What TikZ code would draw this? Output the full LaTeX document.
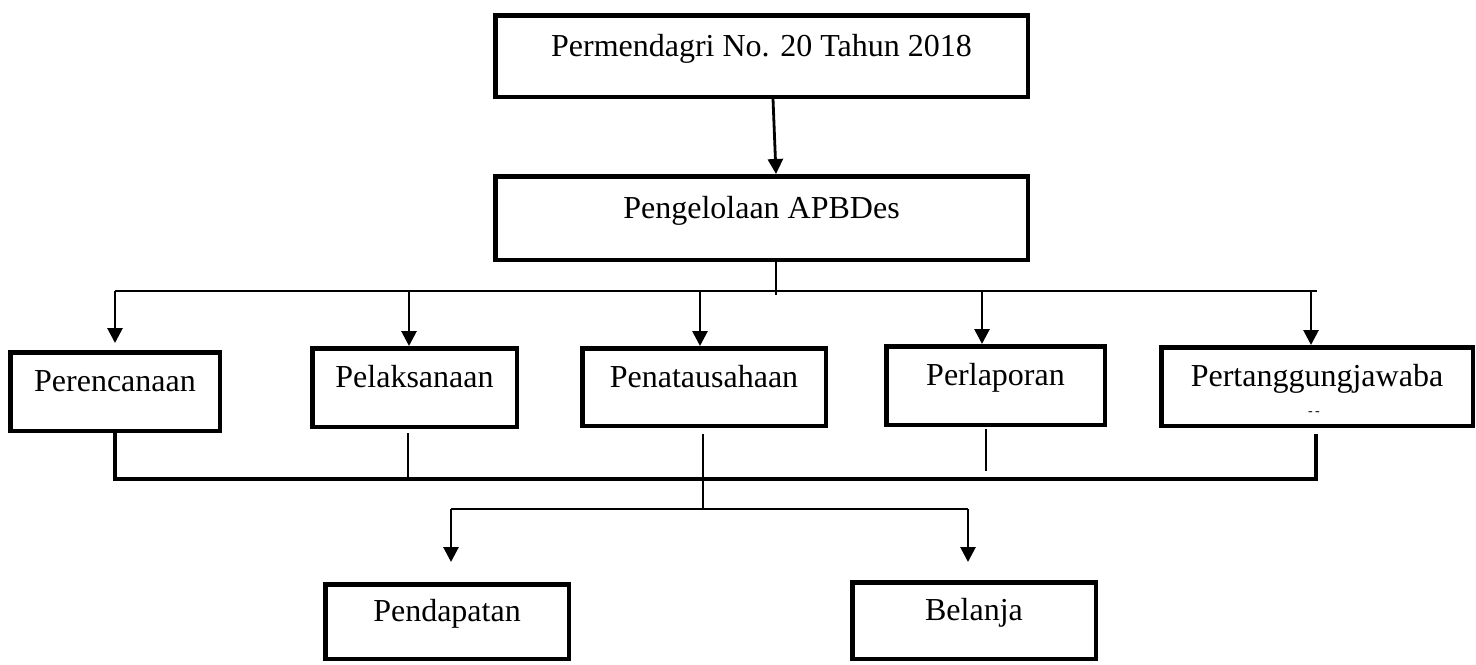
\documentclass[tikz,border=0pt]{standalone}
\usepackage{fontspec}
\setmainfont{Liberation Serif}
\usetikzlibrary{arrows.meta,calc}
\begin{document}
\begin{tikzpicture}[x=0.5pt,y=-0.5pt,
  box/.style={draw,line width=2.25pt,rectangle,inner sep=0pt,
    text height=9pt,text depth=9pt,font=\fontsize{16}{19}\selectfont},
  conn/.style={line width=1.4pt},
  bus/.style={line width=1.8pt},
  arr/.style={conn,-{Triangle[length=7.5pt,width=7.5pt]}}]
\useasboundingbox (0,0) rectangle (1476,664);
% boxes
\node[box,minimum width=266.25pt,minimum height=40.75pt] (top) at (761.5,56) {Permendagri No. 20 Tahun 2018};
\node[box,minimum width=266.25pt,minimum height=41.75pt] (apb) at (761.5,218) {Pengelolaan APBDes};
\node[box,minimum width=104.75pt,minimum height=39.25pt] (per) at (115,391.5) {Perencanaan};
\node[box,minimum width=102.25pt,minimum height=39.25pt] (pel) at (414.5,387.5) {Pelaksanaan};
\node[box,minimum width=121.75pt,minimum height=38.75pt] (pen) at (704,387) {Penatausahaan};
\node[box,minimum width=109.25pt,minimum height=39.25pt] (lap) at (995.5,385.5) {Perlaporan};
\node[box,minimum width=155.75pt,minimum height=39.25pt] (ptj) at (1317,386.5) {Pertanggungjawaba};
\node[font=\fontsize{7}{7}\selectfont,inner sep=0pt] (ptjn) at (1314,414) {-\,-};
\node[box,minimum width=121.75pt,minimum height=37.25pt] (pdp) at (447,621.5) {Pendapatan};
\node[box,minimum width=121.75pt,minimum height=38.25pt] (bel) at (974,620.5) {Belanja};
% top arrow
\draw[arr] ($(top.south)+(11.5,0)$) -- ($(apb.north)+(14.5,0)$);
% upper bus
\coordinate (hub) at (776,295);
\coordinate (busL) at (115,291);
\coordinate (busR) at (1317,291);
\draw[conn] ($(apb.south)+(14.5,0)$) -- (hub);
\draw[conn] (busL) -- (busR);
\coordinate (aPer) at ($(per.north)+(0,-7)$);
\coordinate (aPel) at ($(pel.north)+(-5.5,0)$);
\coordinate (aPen) at ($(pen.north)+(-4,0)$);
\coordinate (aLap) at ($(lap.north)+(-13.5,0)$);
\coordinate (aPtj) at ($(ptj.north)+(-6,0)$);
\draw[arr] (aPer |- busL) -- (aPer);
\draw[arr] (aPel |- busL) -- (aPel);
\draw[arr] (aPen |- busL) -- (aPen);
\draw[arr] (aLap |- busL) -- (aLap);
\draw[arr] (aPtj |- busL) -- (aPtj);
% lower bus
\coordinate (lbL) at (115,479);
\coordinate (lbR) at (1316,479);
\draw[bus] (per.south) -- (lbL) -- (lbR) -- ($(ptj.south)+(-1,6)$);
\coordinate (dPel) at ($(pel.south)+(-6.5,4)$);
\draw[conn] (dPel) -- ($(dPel |- lbL)+(0,-2)$);
\coordinate (dLap) at ($(lap.south)+(-9.5,2)$);
\draw[conn] (dLap) -- (dLap |- 0,471);
% branch
\coordinate (brL) at (451,509);
\coordinate (brR) at (968,509);
\coordinate (dPen) at ($(pen.south)+(-1,6)$);
\draw[conn] (dPen) -- (dPen |- brL);
\draw[conn] (brL) -- (brR);
\draw[arr] (brL) -- ($(pdp.north)+(4,-20)$);
\draw[arr] (brR) -- ($(bel.north)+(-6,-18)$);
\end{tikzpicture}
\end{document}
